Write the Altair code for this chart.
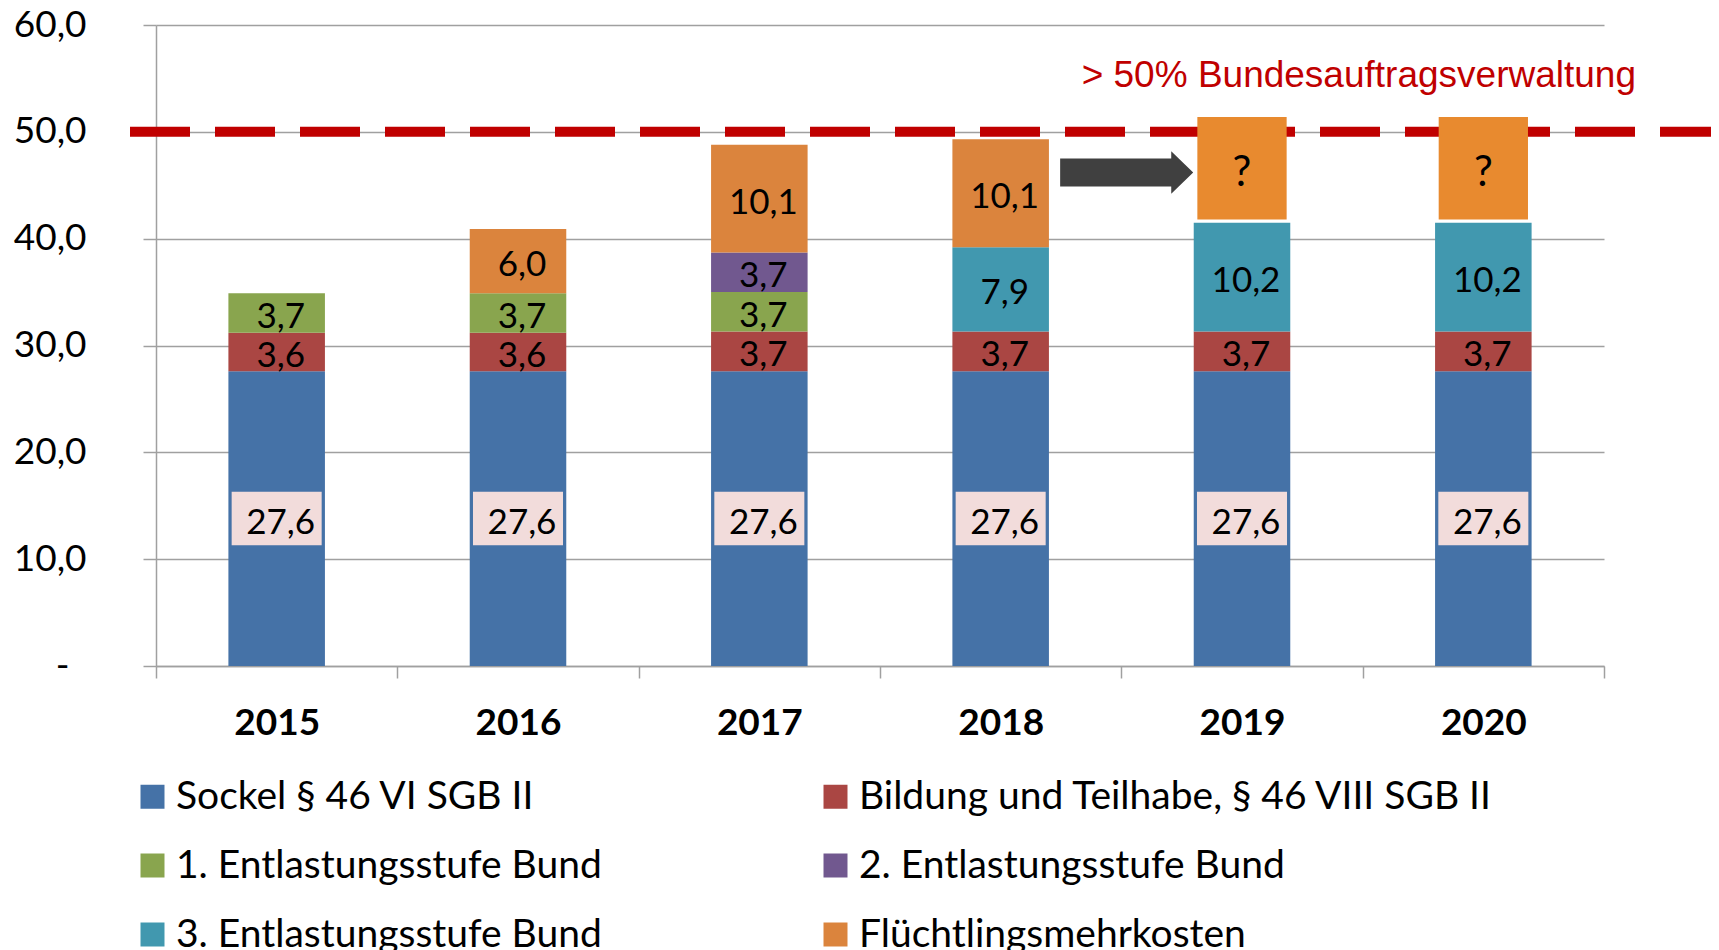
import altair as alt
import pandas as pd

# ---- data ----
years = ["2015", "2016", "2017", "2018", "2019", "2020"]
series = [
    "Sockel § 46 VI SGB II",
    "Bildung und Teilhabe, § 46 VIII SGB II",
    "1. Entlastungsstufe Bund",
    "2. Entlastungsstufe Bund",
    "3. Entlastungsstufe Bund",
    "Flüchtlingsmehrkosten",
]
colors = ["#4572A7", "#AA4643", "#89A54E", "#71588F", "#4198AF", "#DB843D"]

sockel = [27.6, 27.6, 27.6, 27.6, 27.6, 27.6]
bildung = [3.6, 3.6, 3.7, 3.7, 3.7, 3.7]
stufe1 = [3.7, 3.7, 3.7, None, None, None]
stufe2 = [None, None, 3.7, None, None, None]
stufe3 = [None, None, None, 7.9, 10.2, 10.2]
fluecht = [None, 6.0, 10.1, 10.1, None, None]

# open ("?") refugee cost boxes for 2019/2020 (estimated extent)
open_years = ["2019", "2020"]
open_bottom = [41.8, 41.8]
open_top = [51.4, 51.4]
open_label = ["?", "?"]

threshold = [50.0]
threshold_label = ["> 50% Bundesauftragsverwaltung"]

arrow_year = ["2018"]
arrow_level = [46.2]

y_ticks = [0, 10, 20, 30, 40, 50, 60]

# ---- layout constants ----
W, H = 1448, 641
GRAY = "#A0A0A0"
FONT = "Lato"

rows = []
for idx, (name, vals) in enumerate(zip(series, [sockel, bildung, stufe1, stufe2, stufe3, fluecht])):
    for yr, v in zip(years, vals):
        if v is not None:
            rows.append({"year": yr, "series": name, "value": v, "order": idx})
df = pd.DataFrame(rows)

open_df = pd.DataFrame({"year": open_years, "bottom": open_bottom, "top": open_top, "label": open_label})
thr_df = pd.DataFrame({"y": threshold, "label": threshold_label})
arrow_df = pd.DataFrame({"year": arrow_year, "level": arrow_level})

x_scale = alt.Scale(domain=years, paddingInner=0, paddingOuter=0)
x_axis = alt.Axis(
    title=None, tickBand="extent", labelFont=FONT, labelFontSize=37, labelFontWeight="bold",
    labelColor="black", tickSize=12, tickColor=GRAY, tickWidth=1.5, domainColor=GRAY,
    domainWidth=1.5, labelPadding=27, grid=False, labelAngle=0,
)
y_scale = alt.Scale(domain=[0, 60], nice=False)
y_axis = alt.Axis(
    title=None, values=y_ticks,
    labelExpr="datum.value == 0 ? '-' : replace(format(datum.value, '.1f'), '.', ',')",
    labelFont=FONT, labelFontSize=37, labelColor="black",
    labelPadding={"condition": {"test": "datum.value == 0", "value": 74}, "value": 57},
    tickSize=13, tickColor=GRAY, tickWidth=1.5, domainColor=GRAY, domainWidth=1.5, grid=True,
    gridColor=GRAY, gridWidth=1.5,
)


def X():
    return alt.X("year:N", scale=x_scale, axis=x_axis)


def Y(field):
    return alt.Y(field, scale=y_scale, axis=y_axis)


legend = alt.Legend(
    orient="none", legendX=-23, legendY=752, columns=2, direction="horizontal", title=None,
    symbolType="square", symbolSize=576, symbolStrokeWidth=0, labelFont=FONT, labelFontSize=39,
    labelColor="black", labelOffset=4, rowPadding=29, columnPadding=214, padding=0, labelLimit=0,
    symbolOpacity=1,
)

base = alt.Chart(df)

thr_rule = alt.Chart(thr_df).mark_rule(color="#C00000", strokeWidth=10, strokeDash=[60, 25]).encode(
    y=Y("y:Q"), x=alt.value(-26), x2=alt.value(W + 110)
)

bars = base.mark_bar(width=alt.RelativeBandSize(0.4)).encode(
    x=X(),
    y=alt.Y("value:Q", stack="zero", scale=y_scale, axis=y_axis),
    color=alt.Color("series:N", scale=alt.Scale(domain=series, range=colors), legend=legend),
    order=alt.Order("order:Q", sort="ascending"),
)

pink = base.transform_filter(alt.datum.order == 0).transform_calculate(
    lo="datum.value / 2 - 2.5", hi="datum.value / 2 + 2.5"
).mark_bar(width=alt.RelativeBandSize(0.373), color="#F2DCDB").encode(
    x=X(), y=Y("lo:Q"), y2="hi:Q"
)

labels = base.transform_stack(
    stack="value", groupby=["year"], as_=["v0", "v1"], sort=[alt.SortField("order", "ascending")]
).transform_calculate(
    mid="(datum.v0 + datum.v1) / 2", txt="replace(format(datum.value, '.1f'), '.', ',')"
).mark_text(font=FONT, fontSize=35, color="black", baseline="middle", dx=4, dy=4).encode(
    x=X(), y=Y("mid:Q"), text="txt:N"
)

open_bars = alt.Chart(open_df).mark_bar(width=alt.RelativeBandSize(0.37), color="#E88A2F").encode(
    x=X(), y=Y("bottom:Q"), y2="top:Q"
)
open_text = alt.Chart(open_df).transform_calculate(mid="(datum.bottom + datum.top) / 2").mark_text(
    font=FONT, fontSize=42, color="black", baseline="middle", dy=5
).encode(x=X(), y=Y("mid:Q"), text="label:N")

ARROW = "M-1,-0.21 L0.67,-0.21 L0.67,-0.32 L1,0 L0.67,0.32 L0.67,0.21 L-1,0.21 Z"
arrow = alt.Chart(arrow_df).mark_point(
    shape=ARROW, size=17700, filled=True, color="#404040", opacity=1, strokeWidth=0, xOffset=126
).encode(x=X(), y=Y("level:Q"))

thr_text = alt.Chart(thr_df).mark_text(
    align="right", baseline="middle", font="Liberation Sans", fontSize=37, color="#C00000"
).encode(x=alt.value(W + 32), y=alt.value(51), text="label:N")

chart = alt.layer(
    thr_rule, bars, pink, labels, open_bars, open_text, arrow, thr_text
).properties(
    width=W, height=H,
    padding={"left": 148, "top": 17, "right": 107, "bottom": 284},
    autosize=alt.AutoSizeParams(type="none"),
    background="white",
).configure_view(stroke=None)

chart.save("out.html", embed_options={"renderer": "svg", "actions": False})
